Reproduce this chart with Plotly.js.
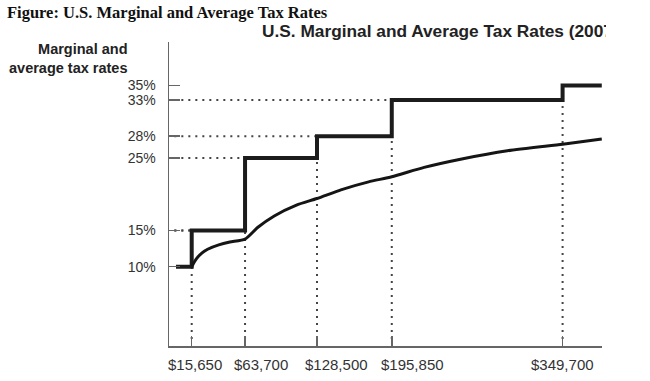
<!DOCTYPE html>
<html>
<head>
<meta charset="utf-8">
<script src="https://cdn.plot.ly/plotly-3.0.1.min.js"></script>
<style>
html,body{margin:0;padding:0;background:#fff;}
#chart{width:606px;height:381px;}
</style>
</head>
<body>
<div id="chart"></div>
<script>
// Bracket thresholds (taxable income) and marginal rates
var thresholds = [15650, 63700, 128500, 195850, 349700];
var tickLabels = ["$15,650", "$63,700", "$128,500", "$195,850", "$349,700"];
var marginalX = [1500, 15650, 63700, 128500, 195850, 349700, 385000];
var marginalY = [10, 15, 25, 28, 33, 35, 35];
var rateTicks = [10, 15, 25, 28, 33, 35];
var rateLabels = ["10%", "15%", "25%", "28%", "33%", "35%"];
// Average tax rate curve
var avgX = [15650, 20000, 25000, 30000, 40000, 50000, 63700, 75000, 90000, 110000, 128500, 150000, 175000, 195850, 225000, 260000, 300000, 349700, 385000];
var avgY = [10.0, 11.1, 11.9, 12.4, 13.0, 13.4, 13.8, 15.4, 17.0, 18.5, 19.4, 20.6, 21.7, 22.4, 23.7, 24.9, 26.0, 26.9, 27.6];

// label offsets (pixels) as drawn in the original
var labelShift = [3, 16, 19, 21, 0];

var dotLine = {color: "#444", width: 2, dash: "2px,5px"};
var traces = [];
for (var i = 0; i < thresholds.length; i++) {
  traces.push({x: [thresholds[i], thresholds[i]], y: [0, marginalY[i]], mode: "lines",
    line: dotLine, hoverinfo: "skip", showlegend: false});
}
for (var j = 1; j < thresholds.length; j++) {
  traces.push({x: [0, thresholds[j]], y: [marginalY[j], marginalY[j]], mode: "lines",
    line: dotLine, hoverinfo: "skip", showlegend: false});
}
traces.push({x: [0, thresholds[0]], y: [marginalY[1], marginalY[1]], mode: "lines",
  line: dotLine, hoverinfo: "skip", showlegend: false});
traces.push({x: marginalX, y: marginalY, mode: "lines", line: {shape: "hv", color: "#1c1c1c", width: 4},
  showlegend: false});
traces.push({x: avgX, y: avgY, mode: "lines", line: {shape: "spline", smoothing: 0.6, color: "#151515", width: 3},
  showlegend: false});

var font = "Liberation Sans, Arial, sans-serif";
var annotations = [
  {text: "<b>Figure: U.S. Marginal and Average Tax Rates</b>", xref: "paper", yref: "paper",
    x: (5 - 169) / 433, y: (346 - 12) / 304, xanchor: "left", yanchor: "middle", showarrow: false,
    font: {family: "Liberation Serif, Times New Roman, serif", size: 16.5, color: "#111"}},
  {text: "<b>Marginal and<br>average tax rates</b>", xref: "paper", yref: "paper",
    x: (130 - 169) / 433, y: (346 - 58) / 304, xanchor: "right", yanchor: "middle", align: "right",
    showarrow: false, font: {family: font, size: 14.5, color: "#222"}}
];
for (var k = 0; k < thresholds.length; k++) {
  annotations.push({text: tickLabels[k], xref: "x", yref: "paper", x: thresholds[k], y: 0,
    xanchor: "center", yanchor: "top", xshift: labelShift[k], yshift: -8, showarrow: false,
    font: {family: font, size: 15, color: "#333"}});
}

var layout = {
  width: 606, height: 381,
  margin: {l: 169, r: 4, t: 42, b: 35},
  paper_bgcolor: "#fff", plot_bgcolor: "#fff",
  showlegend: false,
  title: {text: "U.S. Marginal and Average Tax Rates (2007)", x: 262/606, xanchor: "left", xref: "container",
    y: 1 - 31/381, yanchor: "middle", yref: "container",
    font: {family: font, size: 17.3, color: "#222", weight: "bold"}},
  xaxis: {range: [-4800, 385200], showgrid: false, zeroline: false, showline: true, linecolor: "#666", linewidth: 1.5,
    ticks: "inside", ticklen: 10, tickcolor: "#666", tickwidth: 1.5,
    tickvals: thresholds, showticklabels: false},
  yaxis: {range: [-0.95, 41.0], showgrid: false, zeroline: false, showline: true, linecolor: "#666", linewidth: 1.5,
    ticks: "inside", ticklen: 11, tickcolor: "#666", tickwidth: 1.5,
    tickvals: rateTicks, ticktext: rateLabels, tickfont: {family: font, size: 14, color: "#333"},
    ticklabelstandoff: 9},
  annotations: annotations
};
Plotly.newPlot("chart", traces, layout, {displayModeBar: false, staticPlot: true});
</script>
</body>
</html>
